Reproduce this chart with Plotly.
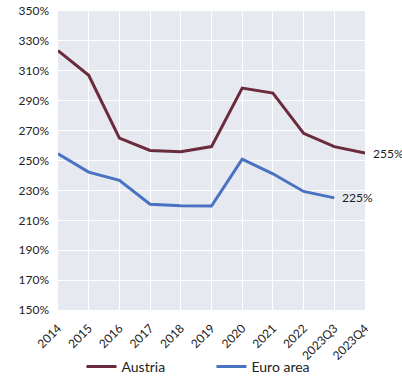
import plotly.graph_objects as go

periods = ["2014", "2015", "2016", "2017", "2018", "2019", "2020", "2021", "2022", "2023Q3", "2023Q4"]
austria = [323.5, 307.0, 265.0, 256.7, 255.8, 259.3, 298.4, 295.1, 268.2, 259.3, 255.0]
euro_area = [254.5, 242.2, 236.7, 220.7, 219.8, 219.5, 250.9, 241.1, 229.3, 225.0, None]

y_ticks = list(range(150, 351, 20))
y_tick_text = [f"{v}%" for v in y_ticks]

austria_color = "#6A2B3D"
euro_color = "#4A72C2"
font_family = "Lato, 'Open Sans', sans-serif"

fig = go.Figure()
fig.add_trace(go.Scatter(x=periods, y=austria, name="Austria", mode="lines",
                         line=dict(color=austria_color, width=3)))
fig.add_trace(go.Scatter(x=periods, y=euro_area, name="Euro area", mode="lines",
                         line=dict(color=euro_color, width=3)))

# end-of-line value labels
last_at = periods[-1]
fig.add_annotation(x=last_at, y=austria[-1], text=f"{austria[-1]:.0f}%", showarrow=False,
                   xanchor="left", xshift=6, font=dict(size=12, color="#222"))
last_eu = max(i for i, v in enumerate(euro_area) if v is not None)
fig.add_annotation(x=periods[last_eu], y=euro_area[last_eu], text=f"{euro_area[last_eu]:.0f}%",
                   showarrow=False, xanchor="left", xshift=6, font=dict(size=12, color="#222"))

fig.update_layout(
    width=402, height=376,
    margin=dict(l=58, r=37, t=11, b=66, autoexpand=False),
    paper_bgcolor="white",
    plot_bgcolor="#E6E9F0",
    font=dict(family=font_family, size=12, color="#333"),
    showlegend=True,
    legend=dict(orientation="h", x=0.5, xanchor="center", y=-0.19, yanchor="middle",
                font=dict(size=14, color="#222"), itemwidth=30, tracegroupgap=0,
                entrywidth=85, bgcolor="rgba(0,0,0,0)"),
)
fig.update_xaxes(type="category", range=[0, len(periods) - 1], tickangle=-45,
                 showgrid=True, gridcolor="white", gridwidth=1, automargin=False,
                 tickfont=dict(size=12, color="#222"), ticks="", zeroline=False,
                 showline=False, ticklabelstandoff=8)
fig.update_yaxes(range=[150, 350], tickvals=y_ticks, ticktext=y_tick_text,
                 showgrid=True, gridcolor="white", gridwidth=1, automargin=False,
                 tickfont=dict(size=12, color="#222"), zeroline=False, showline=False,
                 ticklabelstandoff=8)

fig.write_html("out.html")
